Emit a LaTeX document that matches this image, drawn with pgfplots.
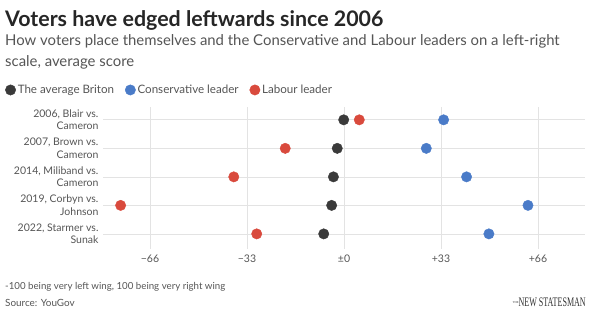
\documentclass[border=0pt]{standalone}
\usepackage{fontspec}
\setmainfont{Lato}
\usepackage{pgfplots}
\usepackage{pgfplotstable}
\usepackage{graphicx}
\pgfplotsset{compat=1.18}
\definecolor{cdark}{HTML}{3A3A3A}
\definecolor{cblue}{HTML}{4A7BC8}
\definecolor{cred}{HTML}{D94A3D}
\definecolor{ctxt}{HTML}{555555}
\definecolor{cgrid}{HTML}{E3E3E3}
\pgfplotstableread{
row briton labour cons
0 -0.1 5.2 33.9
1 -2.3 -20.0 28.0
2 -3.6 -37.5 41.7
3 -4.2 -76.0 62.6
4 -6.9 -29.7 49.3
}\datatab
\begin{document}
\begin{tikzpicture}
\useasboundingbox (0,0) rectangle (602pt,-324pt);
\node[anchor=base west, inner sep=0, text=black!85] at (5pt,-26pt) {\fontsize{21.4}{24}\selectfont\bfseries Voters have edged leftwards since 2006};
\node[anchor=base west, inner sep=0, text=ctxt] at (5pt,-45pt) {\fontsize{14.9}{17}\selectfont How voters place themselves and the Conservative and Labour leaders on a left-right};
\node[anchor=base west, inner sep=0, text=ctxt] at (5pt,-66pt) {\fontsize{14.9}{17}\selectfont scale, average score};
\node[anchor=base west, inner sep=0, text=ctxt] at (5pt,-289pt) {\fontsize{9.7}{12}\selectfont -100 being very left wing, 100 being very right wing};
\node[anchor=base west, inner sep=0, text=ctxt] at (5pt,-306pt) {\fontsize{9.9}{12}\selectfont Source: YouGov};
\node[anchor=base east, inner sep=0, text=black!80] at (586pt,-306pt) {\raisebox{3pt}{\fontspec{Liberation Serif}\fontsize{3}{3}\selectfont THE}\scalebox{0.62}[1]{\fontspec{Liberation Serif}\fontsize{13}{14}\selectfont NEW STATESMAN}};
\begin{axis}[
  at={(103pt,-249pt)}, anchor=south west,
  scale only axis, width=482pt, height=142pt,
  xmin=-82, xmax=82,
  ymin=-0.45, ymax=4.53, y dir=reverse,
  axis line style={draw=none},
  major tick length=0pt,
  xtick={-66,-33,33,66},
  xticklabels={−66,−33,+33,+66},
  extra x ticks={0},
  extra x tick labels={±0},
  extra x tick style={grid style={draw=black!55, line width=0.9pt}},
  ytick={0,1,2,3,4},
  yticklabels={{2006, Blair vs.\\Cameron},{2007, Brown vs.\\Cameron},{2014, Miliband vs.\\Cameron},{2019, Corbyn vs.\\Johnson},{2022, Starmer vs.\\Sunak}},
  grid=major,
  major grid style={draw=cgrid, line width=0.7pt},
  xticklabel style={font=\fontsize{10.5}{12}\selectfont, text=ctxt, yshift=-2pt},
  yticklabel style={font=\fontsize{10.5}{12.5}\selectfont, text=ctxt, align=right, xshift=-1pt},
  /pgf/number format/assume math mode=true,
  legend style={at={(-0.203,1.12)}, anchor=west, draw=none, fill=none,
    font=\fontsize{11.6}{13}\selectfont, text=ctxt, inner sep=0pt,
    /tikz/every even column/.append style={column sep=9pt}},
  legend columns=3,
  legend cell align=left,
  legend image code/.code={\draw[#1] plot coordinates {(0.12cm,0cm)};},
  clip=false,
]
\addplot[only marks, mark=*, mark size=5.2pt, color=cdark, mark options={draw=none, fill=cdark}] table[x=briton, y=row] {\datatab};
\addlegendentry{The average Briton}
\addplot[only marks, mark=*, mark size=5.2pt, color=cblue, mark options={draw=none, fill=cblue}] table[x=cons, y=row] {\datatab};
\addlegendentry{Conservative leader}
\addplot[only marks, mark=*, mark size=5.2pt, color=cred, mark options={draw=none, fill=cred}] table[x=labour, y=row] {\datatab};
\addlegendentry{Labour leader}
\end{axis}
\end{tikzpicture}
\end{document}
